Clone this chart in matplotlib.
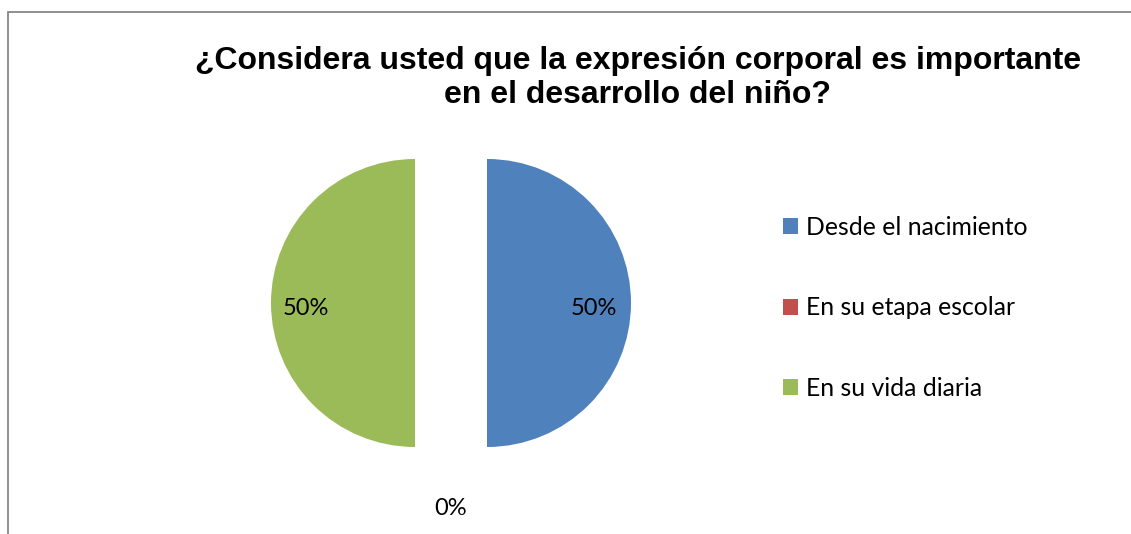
import matplotlib
matplotlib.use("Agg")
import matplotlib.pyplot as plt
from matplotlib.patches import Rectangle
import numpy as np

# datos del grafico
categorias = ["Desde el nacimiento", "En su etapa escolar", "En su vida diaria"]
valores = [50, 0, 50]
colores = ["#4F81BD", "#C0504D", "#9BBB59"]
titulo = "¿Considera usted que la expresión corporal es importante\nen el desarrollo del niño?"

W, H = 1131, 534
fig = plt.figure(figsize=(W / 100, H / 100), dpi=100)
fig.patch.set_facecolor("white")

# marco gris del grafico (se corta a la derecha y abajo)
fig.add_artist(Rectangle((7.5 / W, -0.1), 1.2, (H - 12.5) / H + 0.1, transform=fig.transFigure,
                         fill=False, edgecolor="#878787", linewidth=1.3))

fig.text(638 / W, 1 - 78 / H, titulo, ha="center", va="center", fontsize=23,
         fontweight="bold", family="Liberation Sans", linespacing=1.14)

# ejes del pastel: centro en (451, 303) px, radio 144 px
r_px = 144
half = 210
cx, cy = 451, 303
ax = fig.add_axes([(cx - half) / W, (H - cy - half) / H, 2 * half / W, 2 * half / H])

wedges, textos, pcts = ax.pie(valores, colors=colores, explode=[0.25, 0.25, 0.25],
                              startangle=90, counterclock=False,
                              autopct="%1.0f%%", pctdistance=0.75,
                              textprops=dict(fontsize=17, family="Lato", color="black"))
lim = half / r_px
ax.set_xlim(-lim, lim)
ax.set_ylim(-lim, lim)
ax.set_aspect("equal")

# la etiqueta de la porcion vacia va fuera del pastel
for w, v, t in zip(wedges, valores, pcts):
    if v == 0:
        ang = np.deg2rad((w.theta1 + w.theta2) / 2)
        d = 0.25 + 1.18
        t.set_position((d * np.cos(ang), d * np.sin(ang)))
    else:
        x, y = t.get_position()
        t.set_position((x - 0.005, y - 0.04))

leg = fig.legend(wedges, categorias, loc="center left",
                 bbox_to_anchor=(773 / W, 1 - 308 / H), frameon=False,
                 prop=dict(family="Lato", size=17.8), handlelength=0.62, handleheight=0.62,
                 handletextpad=0.3, labelspacing=2.32, borderaxespad=0)

fig.savefig("out.png", dpi=100, facecolor="white")
